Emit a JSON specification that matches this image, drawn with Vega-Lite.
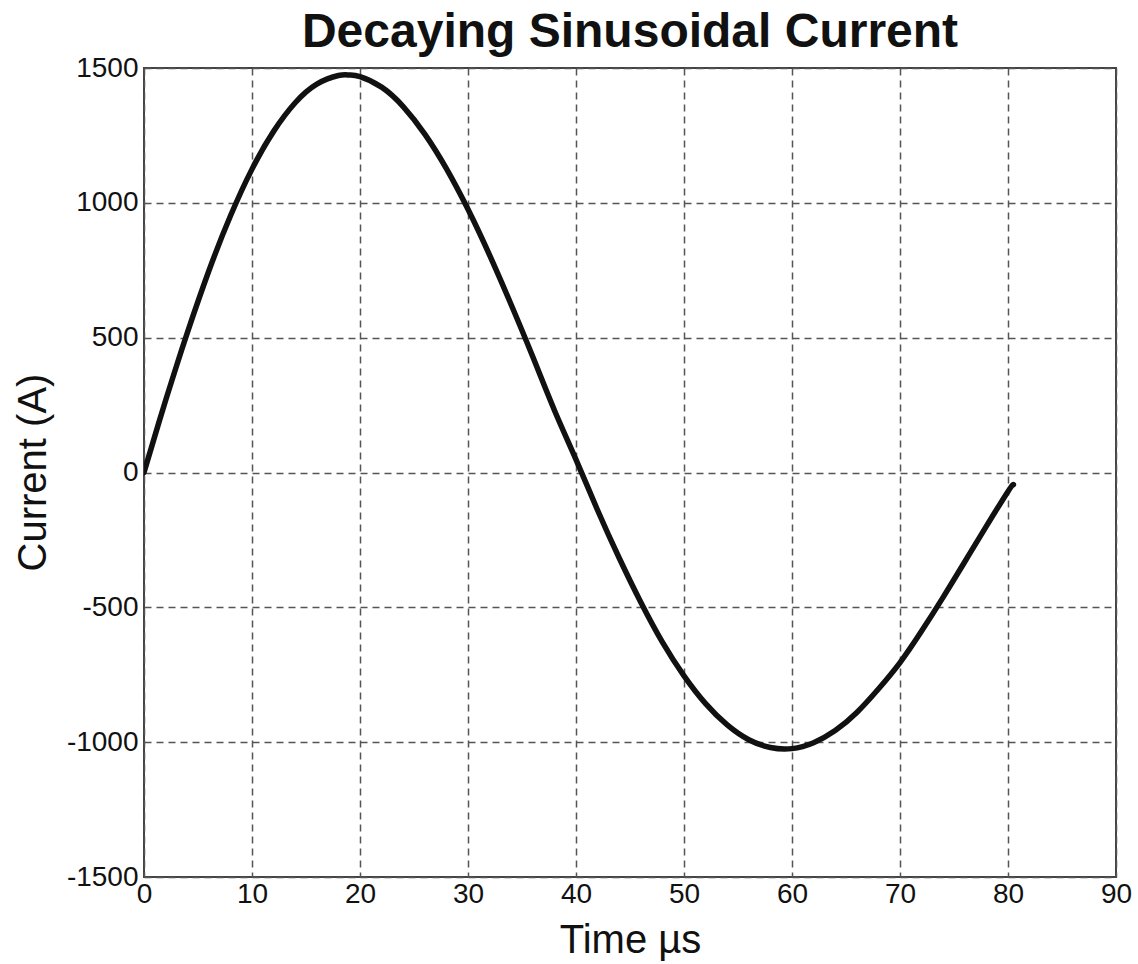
{
  "$schema": "https://vega.github.io/schema/vega-lite/v6.json",
  "width": 972,
  "height": 809,
  "autosize": {"type": "none"},
  "padding": {"left": 144, "top": 68, "right": 22, "bottom": 87},
  "background": "white",
  "config": {
    "font": "Liberation Sans",
    "view": {"stroke": "#444444", "strokeWidth": 2}
  },
  "title": {
    "text": "Decaying Sinusoidal Current",
    "font": "Liberation Sans",
    "fontSize": 48,
    "fontWeight": "bold",
    "color": "#111111",
    "anchor": "middle",
    "offset": -3
  },
  "data": {
    "values": [
      {"t": 0, "i": 0},
      {"t": 1, "i": 135},
      {"t": 2, "i": 267},
      {"t": 3, "i": 394},
      {"t": 4, "i": 517},
      {"t": 6, "i": 747},
      {"t": 8, "i": 951},
      {"t": 10, "i": 1125},
      {"t": 12, "i": 1265},
      {"t": 14, "i": 1371},
      {"t": 16, "i": 1440},
      {"t": 18, "i": 1472},
      {"t": 19, "i": 1474},
      {"t": 20, "i": 1468},
      {"t": 22, "i": 1429},
      {"t": 24, "i": 1357},
      {"t": 26, "i": 1255},
      {"t": 28, "i": 1127},
      {"t": 30, "i": 976},
      {"t": 32, "i": 806},
      {"t": 34, "i": 622},
      {"t": 36, "i": 429},
      {"t": 38, "i": 231},
      {"t": 40, "i": 48},
      {"t": 42, "i": -140},
      {"t": 44, "i": -317},
      {"t": 46, "i": -481},
      {"t": 48, "i": -629},
      {"t": 50, "i": -754},
      {"t": 52, "i": -857},
      {"t": 54, "i": -936},
      {"t": 56, "i": -991},
      {"t": 58, "i": -1020},
      {"t": 60, "i": -1024},
      {"t": 62, "i": -1002},
      {"t": 64, "i": -957},
      {"t": 66, "i": -890},
      {"t": 68, "i": -803},
      {"t": 70, "i": -705},
      {"t": 72, "i": -588},
      {"t": 74, "i": -462},
      {"t": 76, "i": -331},
      {"t": 78, "i": -199},
      {"t": 80, "i": -70},
      {"t": 80.5, "i": -45}
    ]
  },
  "mark": {"type": "line", "color": "#111111", "strokeWidth": 5.5, "strokeCap": "round", "strokeJoin": "round", "interpolate": "natural", "clip": true},
  "encoding": {
    "x": {
      "field": "t",
      "type": "quantitative",
      "scale": {"domain": [0, 90], "nice": false, "zero": false},
      "axis": {
        "title": "Time µs",
        "titleFontSize": 40,
        "titleFontWeight": "normal",
        "titleColor": "#111111",
        "titleBaseline": "alphabetic",
        "titleY": 75,
        "values": [0, 10, 20, 30, 40, 50, 60, 70, 80, 90],
        "labelExpr": "datum.value + ''",
        "labelFontSize": 28,
        "labelColor": "#111111",
        "labelPadding": 3,
        "labelFlush": false,
        "labelOverlap": false,
        "ticks": false,
        "domain": false,
        "grid": true,
        "gridColor": "#555555",
        "gridDash": [7, 5],
        "gridWidth": 1.5
      }
    },
    "y": {
      "field": "i",
      "type": "quantitative",
      "scale": {"domain": [-1500, 1500], "nice": false, "zero": false},
      "axis": {
        "title": "Current (A)",
        "titleFontSize": 40,
        "titleFontWeight": "normal",
        "titleColor": "#111111",
        "titleX": -111,
        "titleY": 404,
        "titleAngle": -90,
        "titleAlign": "center",
        "titleBaseline": "middle",
        "values": [-1500, -1000, -500, 0, 500, 1000, 1500],
        "labelExpr": "datum.value + ''",
        "labelFontSize": 28,
        "labelColor": "#111111",
        "labelPadding": 6,
        "labelFlush": false,
        "labelOverlap": false,
        "ticks": false,
        "domain": false,
        "grid": true,
        "gridColor": "#555555",
        "gridDash": [7, 5],
        "gridWidth": 1.5
      }
    }
  }
}
